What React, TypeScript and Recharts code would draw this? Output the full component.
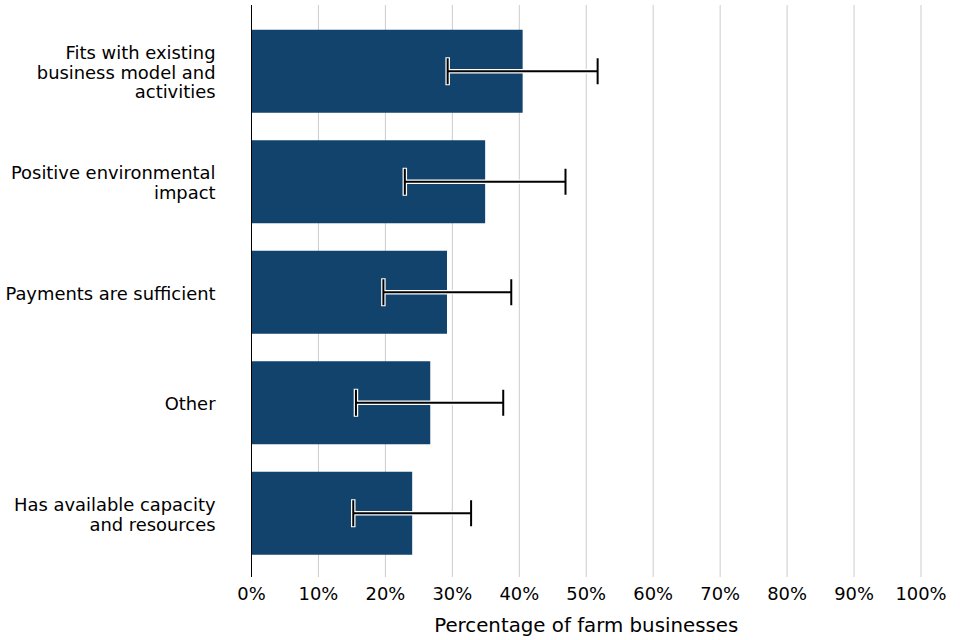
import React from "react";
import {
  BarChart,
  Bar,
  XAxis,
  YAxis,
  CartesianGrid,
  ErrorBar,
} from "recharts";

const categories = [
  "Fits with existing\nbusiness model and\nactivities",
  "Positive environmental\nimpact",
  "Payments are sufficient",
  "Other",
  "Has available capacity\nand resources",
];
const values = [40.5, 34.9, 29.2, 26.7, 24.0];
const lowerBounds = [29.3, 22.9, 19.7, 15.6, 15.2];
const upperBounds = [51.7, 46.9, 38.8, 37.6, 32.8];
const xTicks = [0, 10, 20, 30, 40, 50, 60, 70, 80, 90, 100];

const data = categories.map((name, i) => ({
  name,
  value: values[i],
  err: [values[i] - lowerBounds[i], upperBounds[i] - values[i]],
}));

const FONT = "'DejaVu Sans', sans-serif";

function CategoryTick(props: any) {
  const { x, y, payload } = props;
  const lines: string[] = String(payload.value).split("\n");
  const lh = 19.7;
  const start = -((lines.length - 1) * lh) / 2;
  return (
    <text
      x={x}
      y={y}
      textAnchor="end"
      fontSize={17.9}
      fontFamily={FONT}
      fill="#000"
    >
      {lines.map((l, i) => (
        <tspan key={i} x={x} y={y + start + i * lh + 1.5} dy="0.35em">
          {l}
        </tspan>
      ))}
    </text>
  );
}

export default function App() {
  return (
    <div style={{ position: "absolute", left: 0, top: 0, background: "#fff" }}>
      <BarChart
        width={960}
        height={640}
        data={data}
        layout="vertical"
        margin={{ top: 5, right: 39, bottom: 0, left: 0 }}
      >
        <CartesianGrid horizontal={false} stroke="#cccccc" strokeWidth={1} />
        <XAxis
          type="number"
          domain={[0, 100]}
          ticks={xTicks}
          tickFormatter={(v) => `${v}%`}
          axisLine={false}
          tickLine={false}
          tickSize={0}
          tickMargin={10}
          height={63}
          tick={{ fontSize: 17.9, fontFamily: FONT, fill: "#000" }}
          label={{
            value: "Percentage of farm businesses",
            position: "insideBottom",
            offset: 8,
            fontSize: 19.8,
            fontFamily: FONT,
            fill: "#000",
          }}
        />
        <YAxis
          type="category"
          dataKey="name"
          width={251.5}
          axisLine={{ stroke: "#000", strokeWidth: 1 }}
          tickLine={false}
          tickSize={0}
          tickMargin={36}
          padding={{ top: 10.75, bottom: 8.75 }}
          tick={<CategoryTick />}
          interval={0}
        />
        <Bar dataKey="value" fill="#12436d" barSize={83} isAnimationActive={false}>
          <ErrorBar
            dataKey="err"
            direction="x"
            width={14}
            stroke="#ffffff"
            strokeWidth={4.5}
            isAnimationActive={false}
          />
          <ErrorBar
            dataKey="err"
            direction="x"
            width={13}
            stroke="#000000"
            strokeWidth={2}
            isAnimationActive={false}
          />
        </Bar>
      </BarChart>
    </div>
  );
}
